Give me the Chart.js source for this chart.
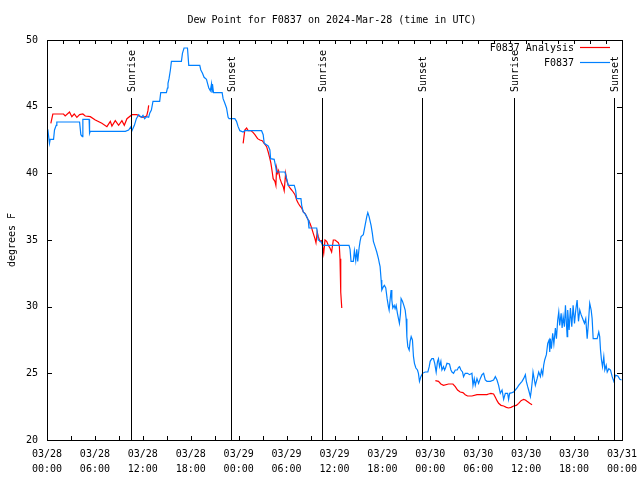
<!DOCTYPE html>
<html>
<head>
<meta charset="utf-8">
<script src="https://cdn.jsdelivr.net/npm/chart.js@4.4.0/dist/chart.umd.min.js"></script>
<style>
  html, body { margin: 0; padding: 0; background: #fff; }
</style>
</head>
<body>
<canvas id="dew" width="640" height="480"></canvas>
<script>
// Dew point, F0837, 2024-03-28 .. 03-31 (x = hours since 03/28 00:00 UTC)
const FONT = "'DejaVu Sans Mono', monospace";
const TITLE = 'Dew Point for F0837 on 2024-Mar-28 (time in UTC)';

const xTickLabels = [
  ["03/28","00:00"],["03/28","06:00"],["03/28","12:00"],["03/28","18:00"],
  ["03/29","00:00"],["03/29","06:00"],["03/29","12:00"],["03/29","18:00"],
  ["03/30","00:00"],["03/30","06:00"],["03/30","12:00"],["03/30","18:00"],
  ["03/31","00:00"]
];

const sunHours  = [10.47, 23.02, 34.43, 46.98, 58.52, 71.06];
const sunLabels = ["Sunrise","Sunset","Sunrise","Sunset","Sunrise","Sunset"];

const seriesNames  = ['F0837 Analysis', 'F0837'];
const seriesColors = ['#ff0000', '#0080ff'];

// F0837 Analysis (null = break in the line)
const analysisHours = [
  0.48,0.73,2.07,2.28,2.82,3.11,3.41,3.74,4.08,4.49,
  4.79,5.42,6.05,6.87,7.50,7.93,8.13,8.55,8.97,9.38,
  9.68,10.01,10.64,11.26,11.69,12.02,12.48,12.64,12.73,
  18,
  24.56,24.77,24.99,25.19,25.53,25.82,26.03,26.37,26.66,26.95,
  27.20,27.50,27.70,27.91,28.04,28.20,28.32,28.54,28.66,28.75,
  28.88,29.00,29.17,29.38,29.58,29.70,29.88,30.01,30.21,30.42,
  30.63,30.83,31.05,31.26,31.46,31.67,31.89,32.09,32.30,32.51,
  32.71,32.93,33.14,33.34,33.55,33.68,33.84,33.97,34.18,34.37,
  34.52,34.65,34.81,35.02,35.22,35.43,35.64,35.85,36.07,36.48,
  36.60,36.69,36.78,36.91,
  42,
  48.63,49.02,49.32,49.65,50.28,50.83,51.12,51.41,51.74,52.08,
  52.37,52.66,53.21,53.84,55.09,55.29,55.59,55.92,56.14,56.35,
  56.55,56.85,57.18,57.52,57.80,58.10,58.43,58.77,59.06,59.36,
  59.68,59.90,60.11,60.44,60.74
];
const analysisTemps = [
  43.75,44.45,44.45,44.3,44.6,44.25,44.45,44.2,44.4,44.45,
  44.3,44.25,44.0,43.75,43.5,43.9,43.55,43.95,43.6,43.95,
  43.6,44.1,44.4,44.4,44.25,44.2,44.3,44.7,45.1,
  null,
  42.25,43.25,43.4,43.2,43.2,43.05,42.9,42.6,42.5,42.45,
  42.25,42.0,41.6,41.1,40.75,40.1,39.6,39.4,39.1,40.4,
  40.0,40.2,39.6,39.25,39.0,38.7,40.0,39.5,39.1,38.9,
  38.75,38.6,38.4,38.0,37.75,37.55,37.4,37.1,37.0,36.75,
  36.5,36.25,35.9,35.5,35.1,34.8,35.6,35.25,34.9,34.95,
  34.5,34.0,35.0,34.9,34.6,34.4,34.1,35.0,35.0,34.8,
  34.6,33.6,31.1,29.9,
  null,
  24.45,24.4,24.2,24.1,24.2,24.2,24.0,23.75,23.6,23.55,
  23.4,23.3,23.3,23.4,23.4,23.45,23.5,23.45,23.2,22.95,
  22.75,22.6,22.55,22.45,22.4,22.45,22.55,22.6,22.75,22.95,
  23.05,23.0,22.9,22.75,22.65
];

// F0837 observations
const obsHours = [
  0.10,0.31,0.40,0.82,0.94,1.15,1.23,4.08,4.24,4.42,
  4.49,5.27,5.33,5.42,9.81,10.22,10.51,10.64,10.94,11.19,
  11.48,11.82,12.02,12.23,12.48,12.73,12.86,13.07,13.27,14.11,
  14.24,14.95,15.08,15.15,15.28,15.45,15.58,16.83,16.96,17.16,
  17.59,17.75,19.13,19.26,19.47,19.67,19.97,20.10,20.26,20.45,
  20.60,20.66,20.72,20.85,21.93,22.05,22.27,22.48,22.68,22.80,
  23.52,23.73,23.93,24.15,24.56,24.77,26.87,27.07,27.20,27.70,
  27.91,28.00,28.45,28.63,28.75,29.79,30.01,30.21,30.96,31.13,
  31.26,31.80,31.89,32.09,32.39,32.71,32.80,33.77,33.84,33.97,
  34.18,34.60,37.82,37.95,38.07,38.36,38.49,38.66,38.79,38.91,
  39.08,39.20,39.33,39.61,39.83,40.04,40.17,40.33,40.58,40.74,
  40.87,41.08,41.29,41.50,41.62,41.71,41.84,41.92,42.12,42.25,
  42.42,42.59,42.75,42.84,42.96,43.09,43.18,43.30,43.47,43.59,
  43.72,43.88,44.01,44.13,44.26,44.34,44.51,44.68,44.85,44.97,
  45.06,45.18,45.35,45.47,45.60,45.76,45.89,46.01,46.19,46.39,
  46.51,46.64,46.81,47.02,47.35,47.69,47.86,47.98,48.19,48.39,
  48.55,48.73,48.90,49.02,49.15,49.32,49.45,49.65,49.78,49.90,
  50.08,50.40,50.58,50.71,50.91,51.12,51.37,51.53,51.66,51.83,
  52.03,52.16,52.37,52.66,52.91,53.21,53.34,53.50,53.63,53.84,
  54.04,54.25,54.47,54.67,54.88,55.09,55.51,55.92,56.14,56.35,
  56.55,56.76,56.98,57.18,57.39,57.68,57.80,57.93,58.23,58.43,
  58.64,58.86,59.06,59.27,59.48,59.68,59.90,60.02,60.19,60.31,
  60.53,60.65,60.78,60.86,61.03,61.15,61.37,61.57,61.78,61.91,
  62.07,62.19,62.32,62.53,62.70,62.87,62.95,63.03,63.16,63.32,
  63.47,63.66,63.79,63.95,64.08,64.20,64.38,64.50,64.63,64.79,
  64.92,65.13,65.20,65.38,65.54,65.71,65.88,66.05,66.21,66.38,
  66.55,66.71,66.88,67.08,67.30,67.46,67.64,67.76,67.96,68.14,
  68.26,68.39,68.89,69.09,69.21,69.31,69.43,69.56,69.72,69.85,
  70.02,70.15,70.35,70.56,70.77,70.97,71.18,71.48,71.73,71.94
];
const obsTemps = [
  43.3,42.25,42.55,42.55,43.25,43.6,43.85,43.85,42.9,42.75,
  44.05,44.05,43.0,43.15,43.15,43.25,43.5,43.2,43.6,44.1,
  44.4,44.2,44.35,44.1,44.25,44.2,44.5,44.75,45.4,45.4,
  46.05,46.05,46.4,46.75,47.1,47.75,48.4,48.4,49.0,49.4,
  49.4,48.1,48.1,47.75,47.5,47.2,47.05,46.75,46.4,46.2,
  46.7,46.05,46.7,46.05,46.05,45.6,45.25,44.9,44.2,44.1,
  44.1,43.9,43.5,43.2,43.1,43.2,43.2,42.9,42.25,42.05,
  41.75,41.1,41.05,40.5,40.1,40.1,39.6,39.1,39.1,38.75,
  38.1,38.1,37.6,37.1,36.9,36.5,35.9,35.9,35.5,35.0,
  34.95,34.6,34.6,34.3,33.4,33.4,34.2,33.45,34.3,33.4,
  34.4,34.9,35.25,35.4,36.1,36.75,37.05,36.75,36.1,35.5,
  34.9,34.5,34.1,33.6,33.25,33.0,32.0,31.25,31.5,31.6,
  31.4,30.6,30.0,29.75,30.5,31.25,30.5,29.9,30.1,29.85,
  30.1,29.5,29.1,28.75,29.5,30.6,30.4,30.1,29.75,29.1,
  27.75,27.0,26.75,27.4,27.75,27.5,26.25,25.75,25.4,25.25,
  25.0,24.4,24.75,25.0,25.1,25.1,25.5,25.9,26.1,26.1,
  25.75,25.1,25.9,26.1,25.5,25.9,25.25,25.5,25.25,25.4,
  25.75,25.7,25.25,25.1,25.0,25.25,25.25,25.45,25.5,25.25,
  25.1,24.75,25.0,25.0,24.9,25.0,24.1,24.6,24.1,24.6,
  24.25,24.6,24.9,25.0,24.5,24.4,24.4,24.5,24.75,24.5,
  24.1,23.5,23.75,23.05,23.5,23.5,23.05,23.5,23.55,23.6,
  23.75,23.9,24.1,24.25,24.4,24.6,24.9,24.4,24.0,23.75,
  23.25,23.75,24.5,25.1,24.5,24.1,24.6,25.1,24.75,25.25,
  24.9,25.6,26.0,26.4,27.25,27.5,26.6,27.6,26.85,28.0,
  27.2,28.4,27.6,29.0,29.6,28.6,29.5,28.4,29.25,28.5,
  30.1,27.75,29.75,28.25,29.9,28.5,30.1,28.75,29.75,30.5,
  28.9,29.75,29.4,29.1,28.75,29.1,27.6,28.5,30.25,29.75,
  29.1,27.6,27.6,28.1,27.75,26.75,26.0,25.5,26.25,25.25,
  25.6,25.1,25.35,25.25,24.75,24.4,24.85,24.8,24.55,24.5
];

const toPoints = (xs, ys) => xs.map((x, i) => ({x, y: ys[i]}));

// box, inward tick marks (gnuplot style), title
const framePlugin = {
  id: 'frame',
  afterDraw(chart) {
    const {ctx, chartArea: a, scales} = chart;
    ctx.save();
    ctx.strokeStyle = '#000';
    ctx.lineWidth = 1;
    ctx.beginPath();
    scales.y.ticks.forEach(t => {
      const py = Math.round(scales.y.getPixelForValue(t.value)) + 0.5;
      ctx.moveTo(a.left, py); ctx.lineTo(a.left + 5, py);
      ctx.moveTo(a.right, py); ctx.lineTo(a.right - 5, py);
    });
    scales.x.ticks.forEach(t => {
      const px = Math.round(scales.x.getPixelForValue(t.value)) + 0.5;
      ctx.moveTo(px, a.bottom); ctx.lineTo(px, a.bottom - 4);
    });
    scales.x2.ticks.forEach(t => {
      const px = Math.round(scales.x2.getPixelForValue(t.value)) + 0.5;
      ctx.moveTo(px, a.top); ctx.lineTo(px, a.top + 4);
    });
    ctx.stroke();
    ctx.strokeRect(Math.round(a.left) + 0.5, Math.round(a.top) + 0.5,
                   Math.round(a.right - a.left), Math.round(a.bottom - a.top));
    ctx.fillStyle = '#000';
    ctx.font = '10px ' + FONT;
    ctx.textAlign = 'center';
    ctx.textBaseline = 'middle';
    ctx.fillText(TITLE, 332, 20);
    ctx.restore();
  }
};

// sunrise / sunset markers
const sunPlugin = {
  id: 'sun',
  afterDatasetsDraw(chart) {
    const {ctx, chartArea: a, scales} = chart;
    ctx.save();
    ctx.strokeStyle = '#000';
    ctx.fillStyle = '#000';
    ctx.lineWidth = 1;
    ctx.font = '10px ' + FONT;
    sunHours.forEach((h, i) => {
      const px = Math.round(scales.x.getPixelForValue(h)) + 0.5;
      ctx.beginPath();
      ctx.moveTo(px, 98); ctx.lineTo(px, a.bottom);
      ctx.stroke();
      ctx.save();
      ctx.translate(px + 1, 92);
      ctx.rotate(-Math.PI / 2);
      ctx.textAlign = 'left';
      ctx.textBaseline = 'middle';
      ctx.fillText(sunLabels[i], 0, 0);
      ctx.restore();
    });
    ctx.restore();
  }
};

// key in the top right corner
const keyPlugin = {
  id: 'key',
  afterDraw(chart) {
    const {ctx} = chart;
    ctx.save();
    ctx.font = '10px ' + FONT;
    ctx.textAlign = 'right';
    ctx.textBaseline = 'middle';
    seriesNames.forEach((name, i) => {
      const y = 48 + i * 15;
      ctx.fillStyle = '#000';
      ctx.fillText(name, 574, y);
      ctx.strokeStyle = seriesColors[i];
      ctx.lineWidth = 1.2;
      ctx.beginPath();
      ctx.moveTo(580, y - 0.5);
      ctx.lineTo(610, y - 0.5);
      ctx.stroke();
    });
    ctx.restore();
  }
};

Chart.defaults.font.family = FONT;
Chart.defaults.color = '#000';

new Chart(document.getElementById('dew'), {
  type: 'line',
  data: {
    datasets: [
      {
        label: seriesNames[0],
        data: toPoints(analysisHours, analysisTemps),
        borderColor: seriesColors[0],
        borderWidth: 1.2,
        pointRadius: 0,
        tension: 0,
        spanGaps: false,
        order: 2
      },
      {
        label: seriesNames[1],
        data: toPoints(obsHours, obsTemps),
        borderColor: seriesColors[1],
        borderWidth: 1.2,
        pointRadius: 0,
        tension: 0,
        order: 1
      }
    ]
  },
  options: {
    responsive: false,
    animation: false,
    devicePixelRatio: 1,
    layout: { padding: { left: 0, right: 18, top: 40, bottom: 0 } },
    scales: {
      x: {
        type: 'linear',
        position: 'bottom',
        min: 0, max: 72,
        grid: { display: false, drawTicks: false },
        border: { display: false },
        afterFit: s => { s.height = 40; s.paddingLeft = 0; s.paddingRight = 0; },
        ticks: {
          stepSize: 3,
          autoSkip: false,
          maxRotation: 0,
          padding: 7,
          font: { size: 10, lineHeight: 1.5 },
          callback: v => (v % 6 === 0 ? xTickLabels[v / 6] : '')
        }
      },
      x2: {
        type: 'linear',
        position: 'top',
        min: 0, max: 72,
        grid: { display: false, drawTicks: false },
        border: { display: false },
        afterFit: s => { s.height = 0; s.paddingLeft = 0; s.paddingRight = 0; },
        ticks: { stepSize: 2, display: false }
      },
      y: {
        min: 20, max: 50,
        grid: { display: false, drawTicks: false },
        border: { display: false },
        afterFit: s => { s.width = 47; s.paddingTop = 0; s.paddingBottom = 0; },
        ticks: { stepSize: 5, padding: 9, font: { size: 10 } },
        title: {
          display: true,
          text: 'degrees F',
          font: { size: 10 },
          padding: { top: 6, bottom: 0 }
        }
      }
    },
    plugins: {
      legend: { display: false },
      tooltip: { enabled: false },
      title: { display: false }
    }
  },
  plugins: [sunPlugin, framePlugin, keyPlugin]
});
</script>
</body>
</html>
